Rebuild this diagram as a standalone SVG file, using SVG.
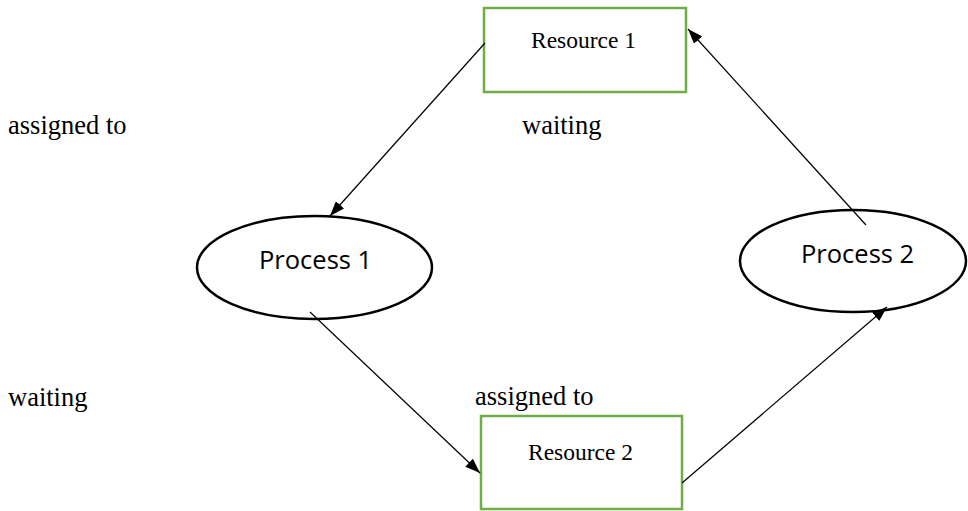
<svg xmlns="http://www.w3.org/2000/svg" width="968" height="511" viewBox="0 0 968 511">
  <defs>
    <style>
      .res { fill: #ffffff; stroke: #70AD47; stroke-width: 2.5; }
      .proc { fill: #ffffff; stroke: #000000; stroke-width: 2.5; }
      .res-label { font-family: "Liberation Serif", "Times New Roman", serif; font-size: 23.5px; fill: #000; }
      .proc-label { font-family: "Open Sans", "Noto Sans", sans-serif; font-size: 25.5px; fill: #000; }
      .edge-label { font-family: "Liberation Serif", "Times New Roman", serif; font-size: 26.5px; fill: #000; }
      .edge { stroke: #000; stroke-width: 1.2; fill: none; marker-end: url(#arrow); }
    </style>
    <marker id="arrow" viewBox="0 0 15 11" refX="15" refY="5.5" markerWidth="15" markerHeight="11" markerUnits="userSpaceOnUse" orient="auto">
      <path d="M0,0 L15,5.5 L0,11 Z" fill="#000"/>
    </marker>
  </defs>
  <rect width="968" height="511" fill="#ffffff"/>

  <g id="resource1">
    <rect class="res" x="484" y="8" width="202" height="84"/>
    <text class="res-label" x="531" y="48">Resource 1</text>
  </g>
  <g id="resource2">
    <rect class="res" x="481" y="416" width="201" height="93"/>
    <text class="res-label" x="528" y="460">Resource 2</text>
  </g>
  <g id="process1">
    <ellipse class="proc" cx="314.5" cy="267.5" rx="117.5" ry="51.5"/>
    <text class="proc-label" x="259" y="269">Process 1</text>
  </g>
  <g id="process2">
    <ellipse class="proc" cx="853" cy="261" rx="113" ry="51"/>
    <text class="proc-label" x="801" y="263">Process 2</text>
  </g>

  <!-- connectors are drawn over the nodes, so their ends show inside the shapes -->
  <g id="connectors">
    <line class="edge" x1="485" y1="43" x2="330" y2="216"/>
    <line class="edge" x1="866" y1="225" x2="688" y2="29"/>
    <line class="edge" x1="310" y1="312" x2="480" y2="473"/>
    <line class="edge" x1="682" y1="483" x2="887" y2="307"/>
  </g>

  <g id="labels">
    <text class="edge-label" x="8" y="134">assigned to</text>
    <text class="edge-label" x="522" y="134">waiting</text>
    <text class="edge-label" x="8" y="406">waiting</text>
    <text class="edge-label" x="475" y="405">assigned to</text>
  </g>
</svg>
